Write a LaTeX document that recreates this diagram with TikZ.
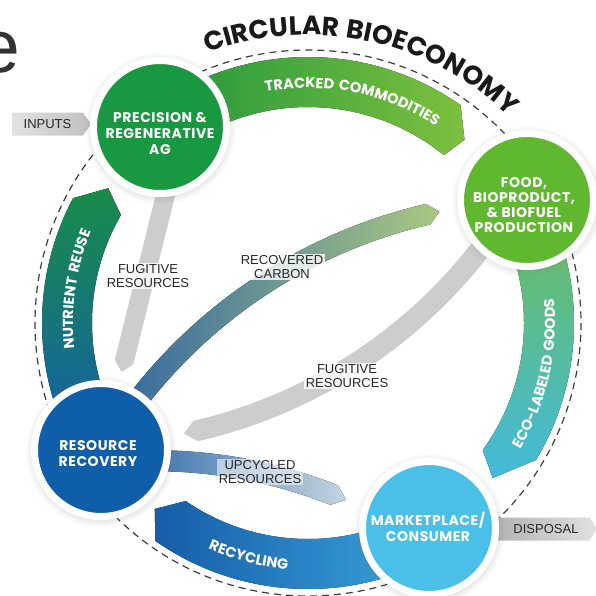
\documentclass[tikz,border=0pt]{standalone}
\usepackage{fontspec}
\setmainfont{Liberation Sans}
\newfontfamily\headfont{Poppins}[LetterSpace=4]
\newfontfamily\bandfamily{Poppins}[LetterSpace=10]
\usetikzlibrary{decorations.text,shapes.symbols,shadows}

\definecolor{agGreen}{RGB}{24,152,64}
\definecolor{foodGreen}{RGB}{96,184,48}
\definecolor{recovBlue}{RGB}{14,94,170}
\definecolor{mktBlue}{RGB}{74,192,232}
\definecolor{noteGray}{RGB}{40,40,40}
\definecolor{ringGray}{RGB}{60,60,60}
\definecolor{fugGray}{RGB}{205,205,205}

\newcommand\hubfont{\headfont\bfseries\fontsize{14}{16}\selectfont}
\newcommand\bandfont{\bandfamily\bfseries\fontsize{14.5}{14.5}\selectfont}
\newcommand\titlefont{\headfont\bfseries\fontsize{26.5}{26.5}\selectfont}
\newcommand\notefont{\fontsize{13}{14}\selectfont}

% band on the loop: start, outer end, tip, inner end (angles round the loop centre)
\def\ringband[#1](#2:#3:#4:#5){\fill[#1] (#2:266) arc[start angle=#2, end angle=#3, radius=266] -- (#4:241) -- (#5:216) arc[start angle=#5, end angle=#2, radius=216] -- cycle;}

% band across the loop: own centre, start, end, tip, radius
\def\crossband[#1](#2)(#3:#4:#5:#6){%
  \pgfmathsetmacro\bandout{#6+10.5}\pgfmathsetmacro\bandin{#6-10.5}%
  \fill[#1, shift={(#2)}] (#3:\bandout) arc[start angle=#3, end angle=#4, radius=\bandout] -- (#5:#6) -- (#4:\bandin) arc[start angle=#4, end angle=#3, radius=\bandin] -- cycle;}

\begin{document}
\begin{tikzpicture}[x=1pt, y=-1pt,
    hub/.style={circle, draw=white, line width=7pt, minimum size=133pt, inner sep=0pt,
      circular drop shadow={shadow xshift=0pt, shadow yshift=-1pt, shadow scale=1.14, opacity=0.28}},
    hubtext/.style={align=center, text=white, font=\hubfont, inner sep=0pt},
    note/.style={align=center, text=noteGray, font=\notefont, fill=white, fill opacity=0.8, text opacity=1, inner sep=1.5pt},
    tag/.style={signal, signal to=east, signal pointer angle=110, minimum height=23pt, text=noteGray, font=\notefont, inner sep=3pt},
    bandtext/.style={decorate, decoration={text along path, text align=center, text color=white, text={|\bandfont|#1}}},
  ]
  \useasboundingbox (0,0) rectangle (596,595);

  \node[anchor=base east, text=black!80, font=\fontsize{75}{75}\selectfont] (head) at (24,72) {e};

  %%%%% loop %%%%%
  \begin{scope}[shift={(308,323)}]
    \draw[ringGray, line width=1.2pt, dash pattern=on 7pt off 5pt] (0,0) circle[radius=273];

    \path[decorate, decoration={text along path, text align=center, text color=black!90,
      text={|\titlefont|CIRCULAR BIOECONOMY}}] (-123.2:288) arc[start angle=-123.2, end angle=-33.2, radius=288];

    \ringband[left color={rgb,255:red,32;green,150;blue,60}, right color={rgb,255:red,125;green,192;blue,62}](-125:-55:-49.5:-51);
    \ringband[top color={rgb,255:red,112;green,190;blue,80}, bottom color={rgb,255:red,66;green,186;blue,220}](-30:31:40:36);
    \ringband[left color={rgb,255:red,22;green,92;blue,168}, right color={rgb,255:red,58;green,168;blue,222}](60:125:129.5:124.5);
    \ringband[top color={rgb,255:red,24;green,140;blue,72}, bottom color={rgb,255:red,20;green,92;blue,172}](150:208:214:210);

    \path[bandtext={TRACKED COMMODITIES}] (-123.7:235) arc[start angle=-123.7, end angle=-33.7, radius=235];
    \path[bandtext={ECO-LABELED GOODS}] (57.5:247) arc[start angle=57.5, end angle=-32.5, radius=247];
    \path[bandtext={RECYCLING}] (144.3:247) arc[start angle=144.3, end angle=64.3, radius=247];
    \path[bandtext={NUTRIENT REUSE}] (148.3:235) arc[start angle=148.3, end angle=228.3, radius=235];
  \end{scope}

  %%%%% inner flows %%%%%
  \fill[fugGray] (158.8,182.7) -- (114.8,359.7) -- (121.6,372) -- (133.2,364.3) -- (177.2,187.3) -- cycle;
  \crossband[fugGray](82.5,-59.7)(37:77:78.4:503.6);
  \crossband[left color={rgb,255:red,52;green,104;blue,160}, middle color={rgb,255:red,208;green,210;blue,212},
    right color={rgb,255:red,170;green,200;blue,130}](543.5,714)(215:257:258.3:513);
  \crossband[left color={rgb,255:red,36;green,98;blue,165}, middle color={rgb,255:red,226;green,232;blue,236},
    right color={rgb,255:red,196;green,212;blue,224}](154.2,949.6)(-95:-68.4:-66.9:488.9);

  \node[note] (fugA) at (148,276) {FUGITIVE\\RESOURCES};
  \node[note] (carbon) at (282,267) {RECOVERED\\CARBON};
  \node[note] (fugB) at (347,376) {FUGITIVE\\RESOURCES};
  \node[note, fill opacity=0.55] (upcyc) at (260,472) {UPCYCLED\\RESOURCES};

  %%%%% in and out %%%%%
  \node[tag, minimum width=79pt, left color={rgb,255:red,226;green,226;blue,226},
    right color={rgb,255:red,192;green,192;blue,192}] (inputs) at (47.5,124) {INPUTS};
  \node[tag, minimum width=103pt, left color={rgb,255:red,178;green,178;blue,178},
    right color={rgb,255:red,226;green,226;blue,226}] (disposal) at (542,529) {\hspace{8pt}DISPOSAL};

  %%%%% hubs %%%%%
  \node[hub, fill=agGreen] (prec) at (160,127) {};
  \node[hub, fill=foodGreen] (food) at (527,200) {};
  \node[hub, fill=recovBlue] (recov) at (101,450) {};
  \node[hub, fill=mktBlue] (market) at (429,528) {};

  \node[hubtext] (precT) at (160,134) {PRECISION \&\\REGENERATIVE\\AG};
  \node[hubtext, font=\headfont\bfseries\fontsize{14}{15}\selectfont] (foodT) at (524,205) {FOOD,\\BIOPRODUCT,\\\& BIOFUEL\\PRODUCTION};
  \node[hubtext] (recovT) at (98,453.5) {RESOURCE\\RECOVERY};
  \node[hubtext] (marketT) at (428,526.5) {MARKETPLACE/\\CONSUMER};
\end{tikzpicture}
\end{document}
